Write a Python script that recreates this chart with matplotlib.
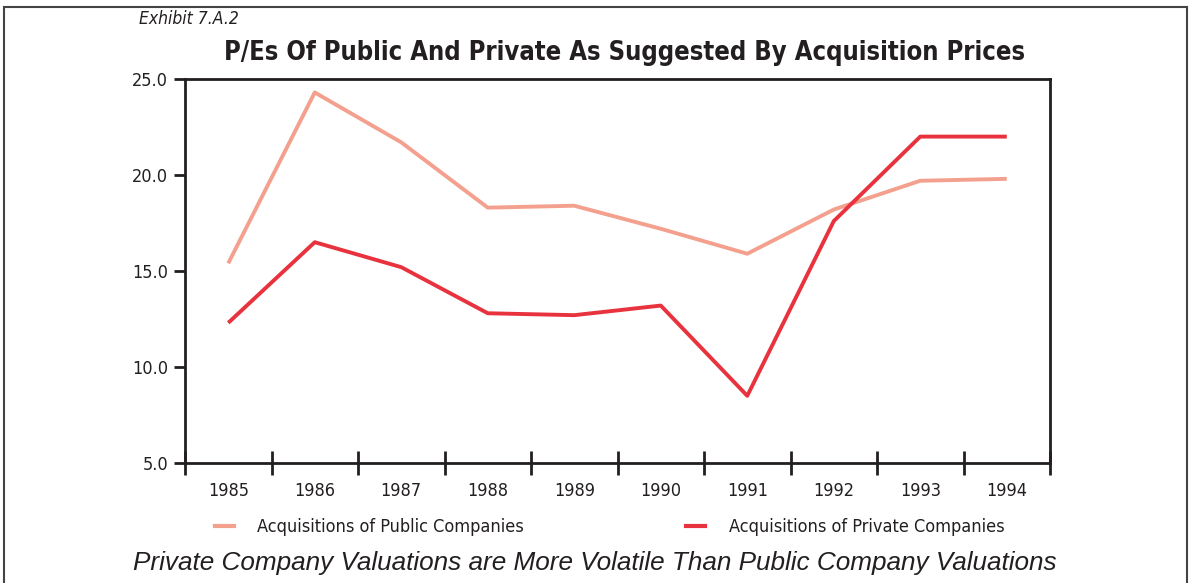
import numpy as np
import matplotlib
matplotlib.use("Agg")
import matplotlib.pyplot as plt
from matplotlib.lines import Line2D
from matplotlib.patches import Rectangle

years = ["1985", "1986", "1987", "1988", "1989", "1990", "1991", "1992", "1993", "1994"]
public_pe = [15.4, 24.3, 21.7, 18.3, 18.4, 17.2, 15.9, 18.2, 19.7, 19.8]
private_pe = [12.3, 16.5, 15.2, 12.8, 12.7, 13.2, 8.5, 17.6, 22.0, 22.0]
y_ticks = [5.0, 10.0, 15.0, 20.0, 25.0]

PUB_COL = "#F4A08E"
PRIV_COL = "#E8333F"
INK = "#231F20"

plt.rcParams["font.family"] = ["DejaVu Sans"]
plt.rcParams["font.stretch"] = "condensed"

fig = plt.figure(figsize=(11.92, 5.83), dpi=100)
ax = fig.add_axes([0.1552, 0.2058, 0.7257, 0.6587])

x = np.arange(len(years))
ax.plot(x, public_pe, color=PUB_COL, lw=2.8, solid_capstyle="butt")
ax.plot(x, private_pe, color=PRIV_COL, lw=2.8, solid_capstyle="butt")

ax.set_xlim(-0.5, len(years) - 0.5)
ax.set_ylim(5, 25)
ax.set_yticks(y_ticks)
ax.set_yticklabels(["%.1f" % v for v in y_ticks], fontsize=13, color=INK)
ax.set_xticks(x)
ax.set_xticklabels(years, fontsize=13, color=INK)
ax.set_xticks(np.arange(-0.5, len(years)), minor=True)
ax.tick_params(axis="x", which="major", length=0, pad=14)
ax.tick_params(axis="x", which="minor", direction="inout", length=17, width=2, color=INK)
ax.tick_params(axis="y", direction="out", length=8, width=2, color=INK, pad=4)

for s in ax.spines.values():
    s.set_linewidth(2)
    s.set_color(INK)

fig.text(0.117, 0.968, "Exhibit 7.A.2", fontsize=12.5, style="italic", color=INK,
         ha="left", va="center")
fig.text(0.5243, 0.909, "P/Es Of Public And Private As Suggested By Acquisition Prices",
         fontsize=18.4, fontweight="bold", color=INK, ha="center", va="center")

handles = [Line2D([], [], color=PUB_COL, lw=3),
           Line2D([], [], color=PRIV_COL, lw=3)]
fig.legend(handles, ["Acquisitions of Public Companies", "Acquisitions of Private Companies"],
           loc="center", bbox_to_anchor=(0.5113, 0.096), ncol=2, frameon=False,
           fontsize=13, handlelength=1.05, handletextpad=1.3, columnspacing=9.0,
           labelcolor=INK)

fig.text(0.4993, 0.034, "Private Company Valuations are More Volatile Than Public Company Valuations",
         fontsize=18.8, style="italic", color=INK, ha="center", va="center",
         family=["Liberation Sans", "DejaVu Sans"], stretch="normal")

fig.patches.append(Rectangle((0.0034, -0.05), 0.9925, 1.038, transform=fig.transFigure,
                             fill=False, edgecolor="#444444", lw=1.5))

fig.savefig("out.png", dpi=100)
